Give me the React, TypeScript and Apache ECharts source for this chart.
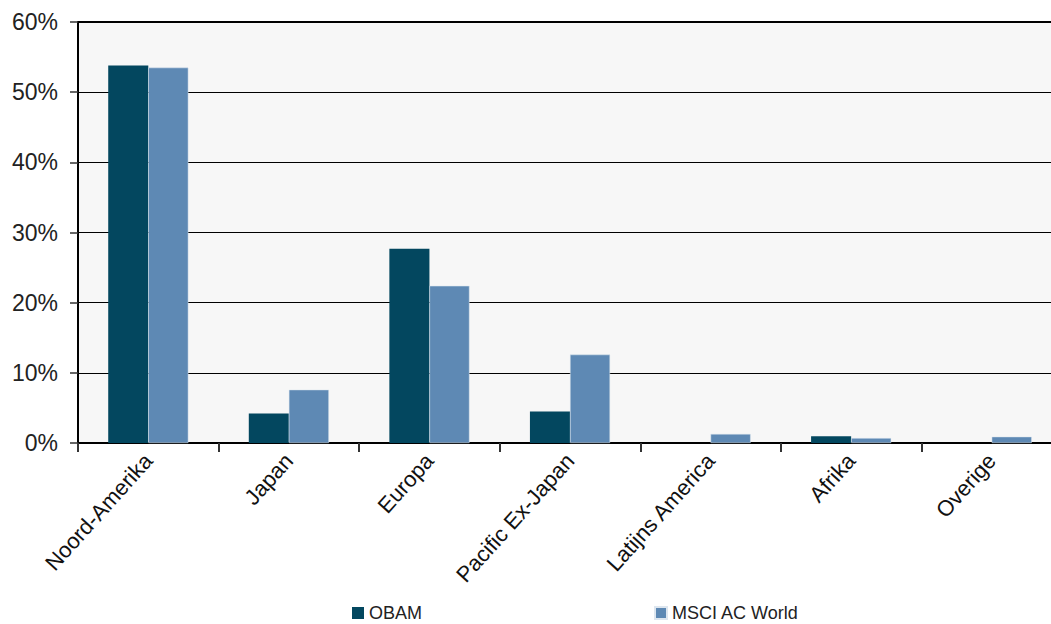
import React, { useEffect, useRef } from "react";
import * as echarts from "echarts";

const categories = ["Noord-Amerika", "Japan", "Europa", "Pacific Ex-Japan", "Latijns America", "Afrika", "Overige"];
const obamValues = [53.8, 4.2, 27.7, 4.5, 0, 0.95, 0];
const msciValues = [53.5, 7.6, 22.4, 12.6, 1.3, 0.7, 0.9];
const seriesNames = ["OBAM", "MSCI AC World"];

export default function App() {
  const ref = useRef<HTMLDivElement>(null);
  useEffect(() => {
    if (!ref.current) return;
    const chart = echarts.init(ref.current, null, { renderer: "svg" });
    const font = "Liberation Sans, Arial, sans-serif";
    chart.setOption({
      animation: false,
      backgroundColor: "#ffffff",
      grid: {
        left: 78,
        top: 22,
        right: 0,
        bottom: 181,
        show: true,
        backgroundColor: "#f7f7f7",
        borderColor: "#000",
        borderWidth: 2,
      },
      legend: {
        data: seriesNames,
        left: 347,
        top: 599,
        icon: "rect",
        itemWidth: 12,
        itemHeight: 12,
        itemGap: 232,
        textStyle: { fontFamily: font, fontSize: 18, color: "#222" },
      },
      xAxis: {
        type: "category",
        data: categories,
        axisLine: { show: true, lineStyle: { color: "#000", width: 2 } },
        axisTick: { show: true, length: 9, lineStyle: { color: "#333", width: 2 } },
        axisLabel: {
          rotate: 48,
          margin: 14,
          interval: 0,
          fontFamily: font,
          fontSize: 22,
          color: "#111",
        },
      },
      yAxis: {
        type: "value",
        min: 0,
        max: 60,
        interval: 10,
        axisLine: { show: true, lineStyle: { color: "#000", width: 2 } },
        axisTick: { show: true, length: 8, lineStyle: { color: "#333", width: 1.5 } },
        splitLine: { show: true, lineStyle: { color: "#000", width: 1 } },
        axisLabel: {
          formatter: "{value}%",
          margin: 20,
          fontFamily: font,
          fontSize: 23,
          color: "#222",
        },
      },
      series: [
        {
          name: seriesNames[0],
          type: "bar",
          data: obamValues,
          barGap: "0%",
          barCategoryGap: "43%",
          itemStyle: { color: "#03475f" },
        },
        {
          name: seriesNames[1],
          type: "bar",
          data: msciValues,
          barGap: "0%",
          barCategoryGap: "43%",
          itemStyle: { color: "#5e89b4", borderColor: "#dde6ef", borderWidth: 0.5 },
        },
      ],
    });
    return () => chart.dispose();
  }, []);
  return (
    <div style={{ position: "fixed", left: 0, top: 0, width: 1051, height: 624, overflow: "hidden" }}>
      <div ref={ref} style={{ width: 1062, height: 624 }} />
    </div>
  );
}
